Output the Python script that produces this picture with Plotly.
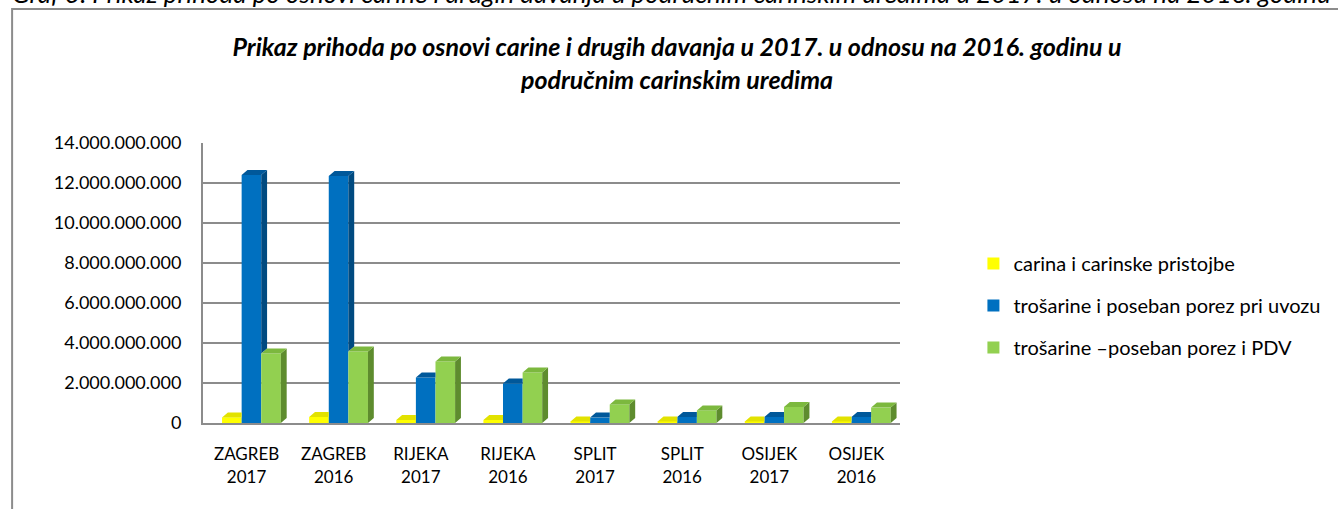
import plotly.graph_objects as go

# ---------------- data ----------------
categories = ["ZAGREB<br>2017", "ZAGREB<br>2016", "RIJEKA<br>2017", "RIJEKA<br>2016",
              "SPLIT<br>2017", "SPLIT<br>2016", "OSIJEK<br>2017", "OSIJEK<br>2016"]
series_names = ["carina i carinske pristojbe",
                "trošarine i poseban porez pri uvozu",
                "trošarine –poseban porez i PDV"]
carina = [0.28e9, 0.30e9, 0.15e9, 0.15e9, 0.08e9, 0.08e9, 0.07e9, 0.07e9]
uvoz = [12.40e9, 12.35e9, 2.28e9, 1.98e9, 0.27e9, 0.30e9, 0.30e9, 0.30e9]
pdv = [3.48e9, 3.57e9, 3.07e9, 2.53e9, 0.93e9, 0.63e9, 0.80e9, 0.77e9]
y_tick_values = [0, 2e9, 4e9, 6e9, 8e9, 10e9, 12e9, 14e9]
y_tick_labels = ["0", "2.000.000.000", "4.000.000.000", "6.000.000.000",
                 "8.000.000.000", "10.000.000.000", "12.000.000.000", "14.000.000.000"]
title_text = ("Prikaz prihoda po osnovi carine i drugih davanja u 2017. u odnosu na 2016. godinu u"
              "<br>područnim carinskim uredima")
caption_text = ("Graf 3. Prikaz prihoda po osnovi carine i drugih davanja u područnim carinskim "
                "uredima u 2017. u odnosu na 2016. godinu")

# ---------------- styling ----------------
FONT = "Lato"
front_colors = ["#FFFF00", "#0070C0", "#92D050"]
top_colors = ["#E2E200", "#00589A", "#7CB83E"]
side_colors = ["#BDBD00", "#004A80", "#5E8C2E"]

W, H = 1338, 509
L, R = 203, 915          # plot area left/right in px
T, B = 143, 423          # plot area top/bottom in px
YMAX = 14e9
pw, ph = R - L, B - T
bw = 0.225               # bar width (category units)
shift = 0.056            # 3-D depth shift of bar group
dx = 0.067               # depth offset x (category units)
dy = 5 * YMAX / ph       # depth offset y (data units)

def px_x(p):
    return (p - L) / pw

def px_y(p):
    return (B - p) / ph

series = [carina, uvoz, pdv]
n = len(categories)
idx = list(range(n))

fig = go.Figure()

# bar front faces
for k, vals in enumerate(series):
    fig.add_trace(go.Bar(
        x=[i + shift + (k - 1) * bw for i in idx], y=vals, width=bw,
        name=series_names[k], legendgroup=f"g{k}",
        marker=dict(color=front_colors[k], line=dict(width=0)),
        hovertemplate="%{y:,.0f}<extra>" + series_names[k] + "</extra>",
    ))

# 3-D faces (side and top) computed from the same values
for k, vals in enumerate(series):
    nxt = series[k + 1] if k + 1 < len(series) else None
    sx, sy, tx, ty = [], [], [], []
    for i in idx:
        v = vals[i]
        x0 = i + shift + (k - 1) * bw - bw / 2
        x1 = x0 + bw
        vn = nxt[i] if nxt is not None else None
        # side face
        if vn is None:
            sx += [x1, x1 + dx, x1 + dx, x1, x1, None]
            sy += [0, dy, v + dy, v, 0, None]
        elif v > vn:
            sx += [x1, x1 + dx, x1 + dx, x1, x1, None]
            sy += [vn, vn + dy, v + dy, v, vn, None]
        # top face
        if vn is not None and vn > v:
            tx += [x0, x1, x1, x0 + dx, x0, None]
            ty += [v, v, v + dy, v + dy, v, None]
        else:
            tx += [x0, x1, x1 + dx, x0 + dx, x0, None]
            ty += [v, v, v + dy, v + dy, v, None]
    fig.add_trace(go.Scatter(x=sx, y=sy, mode="lines", fill="toself",
                             fillcolor=side_colors[k], line=dict(width=0),
                             hoverinfo="skip", showlegend=False))
    fig.add_trace(go.Scatter(x=tx, y=ty, mode="lines", fill="toself",
                             fillcolor=top_colors[k], line=dict(width=0),
                             hoverinfo="skip", showlegend=False))

fig.update_layout(
    width=W, height=H,
    margin=dict(l=L, r=W - R, t=T, b=H - B, pad=0),
    paper_bgcolor="white", plot_bgcolor="white",
    font=dict(family=FONT, size=17, color="#000000"),
    barmode="overlay",
    showlegend=True,
    legend=dict(x=px_x(990), y=px_y(244), xanchor="left", yanchor="top",
                font=dict(family=FONT, size=20, color="#000000"),
                tracegroupgap=13, bgcolor="rgba(0,0,0,0)"),
    title=dict(text=title_text, x=677 / W, xanchor="center", xref="container",
               y=1 - 56 / H, yanchor="middle", yref="container",
               font=dict(family=FONT, size=25, color="#000000",
                         weight="bold", style="italic")),
    xaxis=dict(range=[-0.5, n - 0.5], tickmode="array", tickvals=idx,
               ticktext=categories, showgrid=False, zeroline=False,
               showline=True, linecolor="#8C8C8C", linewidth=2,
               ticks="outside", ticklen=15, tickcolor="rgba(0,0,0,0)",
               tickfont=dict(family=FONT, size=17, color="#000000"),
               fixedrange=True),
    yaxis=dict(range=[0, YMAX], tickmode="array", tickvals=y_tick_values,
               ticktext=y_tick_labels, showgrid=True, gridcolor="#8C8C8C",
               gridwidth=2, zeroline=False, showline=True,
               linecolor="#8C8C8C", linewidth=2,
               ticks="outside", ticklen=16, tickcolor="rgba(0,0,0,0)",
               tickfont=dict(family=FONT, size=18, color="#000000"),
               fixedrange=True),
)

# outer chart border (extends beyond the visible window on the right/bottom)
fig.add_shape(type="rect", xref="paper", yref="paper",
              x0=px_x(8), x1=px_x(W + 300), y0=px_y(9), y1=px_y(H + 300),
              line=dict(color="#8C8C8C", width=2), fillcolor="rgba(0,0,0,0)",
              layer="below")

# caption above the chart, cut off by the page top
fig.add_annotation(text=caption_text, xref="paper", yref="paper",
                   x=px_x(6), y=px_y(-7), xanchor="left", yanchor="middle",
                   showarrow=False,
                   font=dict(family=FONT, size=26, color="#000000", style="italic"))

fig.write_html("out.html",
               config={"displayModeBar": False},
               post_script="document.body.style.margin='0';"
                           "document.body.style.overflow='hidden';")
